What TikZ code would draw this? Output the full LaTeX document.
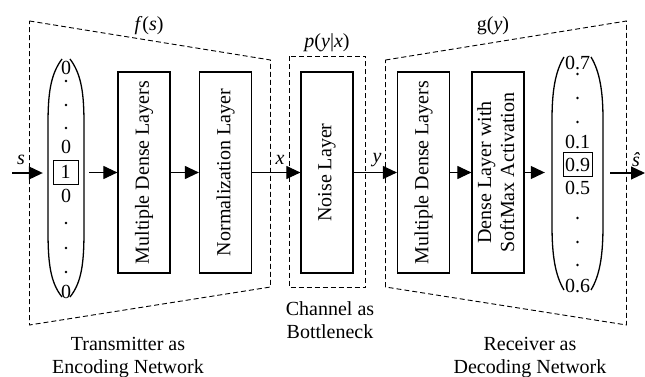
\documentclass[tikz,border=0pt]{standalone}
\usepackage{fontspec}
\setmainfont{Liberation Serif}
\usetikzlibrary{arrows.meta}
\begin{document}
\begin{tikzpicture}[x=1pt,y=-1pt,
  every node/.style={font=\fontsize{20}{23}\selectfont, inner sep=0pt},
  layer/.style={draw, line width=1.2pt, minimum width=52pt, minimum height=201pt},
  dashbox/.style={draw, line width=0.9pt, dash pattern=on 5pt off 3pt},
  conn/.style={line width=1.1pt, -{Triangle[length=14pt,width=13pt]}},
  vec/.style={line width=1.3pt},
  valbox/.style={draw, line width=0.9pt, minimum height=24pt},
  captext/.style={align=center},
  vdot/.style={fill, radius=1.3pt}]
\useasboundingbox (0,0) rectangle (645,377);

% dashed groups
\draw[dashbox] (29.5,21) -- (270.5,60) -- (270.5,287) -- (29.5,325) -- cycle;
\draw[dashbox] (289.5,56.5) rectangle (365.5,287.5);
\draw[dashbox] (385.5,60) -- (626.5,21) -- (626.5,325) -- (385.5,287) -- cycle;

% group labels
\node (fs) at (149,26) {\textit{f}(\textit{s})};
\node (pyx) at (327,43) {\textit{p}(\textit{y}|\textit{x})};
\node (gy) at (493,26) {g(\textit{y})};

% layers
\node[layer] (mdl) at (144,172.5) {\rotatebox{90}{Multiple Dense Layers}};
\node[layer] (norm) at (225.5,172.5) {\rotatebox{90}{Normalization Layer}};
\node[layer] (noise) at (327,172.5) {\rotatebox{90}{Noise Layer}};
\node[layer] (rmdl) at (423.5,172.5) {\rotatebox{90}{Multiple Dense Layers}};
\node[layer] (soft) at (498,172.5) {\rotatebox{90}{\begin{tabular}{@{}c@{}}Dense Layer with\\SoftMax Activation\end{tabular}}};

% input vector
\node[minimum width=36pt, minimum height=238pt] (vin) at (66,173) {};
\draw[vec] (62,59) .. controls (50,75) and (48,95) .. (48,125) -- (48,230) .. controls (48,262) and (50,282) .. (62,297);
\draw[vec] (70,59) .. controls (82,75) and (84,95) .. (84,125) -- (84,230) .. controls (84,262) and (82,282) .. (70,297);
\node (i0a) at (66,68) {0};
\fill[vdot] (66,81) circle; \fill[vdot] (66,105) circle; \fill[vdot] (66,128) circle;
\node (i0b) at (66,147) {0};
\node[valbox, minimum width=25pt] (i1) at (65.5,172) {1};
\node (i0c) at (66,196) {0};
\fill[vdot] (66,223) circle; \fill[vdot] (66,248) circle; \fill[vdot] (66,272) circle;
\node (i0d) at (66,292) {0};

% output vector
\node[minimum width=51pt, minimum height=233pt] (vout) at (577.5,173) {};
\draw[vec] (564,57) .. controls (555,72) and (552,92) .. (552,120) -- (552,225) .. controls (552,255) and (555,275) .. (564,290);
\draw[vec] (591,57) .. controls (600,72) and (603,92) .. (603,120) -- (603,225) .. controls (603,255) and (600,275) .. (591,290);
\node (o1) at (577.5,63) {0.7};
\fill[vdot] (577.5,74) circle; \fill[vdot] (577.5,98) circle; \fill[vdot] (577.5,122) circle;
\node (o2) at (577.5,142) {0.1};
\node[valbox, minimum width=29pt] (o3) at (577.5,164.5) {0.9};
\node (o4) at (577.5,188) {0.5};
\fill[vdot] (577.5,218) circle; \fill[vdot] (577.5,242) circle; \fill[vdot] (577.5,265) circle;
\node (o5) at (577.5,286) {0.6};

% connectors
\coordinate (sin) at (12,173);
\coordinate (sout) at (645,173);
\draw[conn, shorten >=5pt] (sin) -- (vin.west |- sin);
\draw[conn, shorten <=5pt] (vin.east |- mdl.west) -- (mdl.west);
\draw[conn] (mdl.east) -- (norm.west);
\draw[conn] (norm.east) -- (noise.west);
\draw[conn] (noise.east) -- (rmdl.west);
\draw[conn] (rmdl.east) -- (soft.west);
\draw[conn, shorten >=7pt] (soft.east) -- (vout.west |- soft.east);
\draw[conn, shorten <=7pt] (vout.east |- sout) -- (sout);

% signal labels
\node (ls) at (21,160) {\textit{s}};
\node (lx) at (280,160) {\textit{x}};
\node (ly) at (377,160) {\textit{y}};
\node (lsh) at (636,160) {\textit{ŝ}};

% captions
\node[captext] (ctx) at (128,358) {Transmitter as\\Encoding Network};
\node[captext] (cch) at (330,320) {Channel as\\Bottleneck};
\node[captext] (crx) at (530,358) {Receiver as\\Decoding Network};
\end{tikzpicture}
\end{document}
